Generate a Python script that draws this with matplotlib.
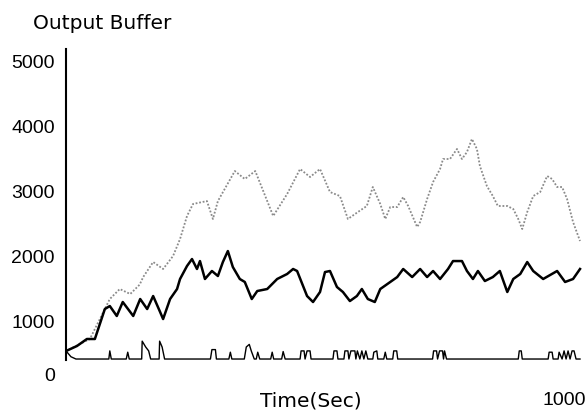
import matplotlib
matplotlib.use("Agg")
import matplotlib.pyplot as plt

# output buffer occupancy
top_t = [0, 28, 48, 68, 88, 108, 129, 148, 155, 175, 195, 215, 229, 243, 255, 283, 295, 305,
         339, 359, 380, 416, 444, 470, 490, 510, 530, 550, 566, 586, 604, 616, 631, 641,
         651, 665, 677, 687, 705, 711, 725, 737, 751, 757, 771, 785, 795, 805, 815, 825,
         831, 845, 857, 867, 886, 898, 908, 916, 926, 938, 952, 966, 976, 986, 996, 1006,
         1018, 1032]
top_v = [538, 646, 723, 1030, 1338, 1492, 1415, 1560, 1676, 1907, 1800, 2000, 2261, 2615, 2800,
         2845, 2569, 2845, 3307, 3184, 3307, 2615, 2953, 3338, 3215, 3338, 2984, 2922, 2569,
         2676, 2769, 3061, 2799, 2569, 2753, 2753, 2907, 2769, 2446, 2522, 2876, 3138, 3338,
         3492, 3492, 3646, 3492, 3599, 3800, 3646, 3384, 3076, 2922, 2769, 2769, 2722, 2569,
         2415, 2676, 2922, 2984, 3230, 3184, 3061, 3061, 2876, 2522, 2230]

mid_t = [0, 22, 42, 58, 78, 88, 102, 114, 135, 149, 163, 175, 189, 195, 209, 223, 229, 243,
         253, 263, 269, 279, 293, 305, 315, 325, 335, 349, 359, 373, 384, 404, 424, 444, 456,
         464, 484, 496, 510, 520, 530, 544, 556, 570, 584, 594, 606, 620, 631, 651, 665, 677,
         695, 711, 725, 737, 751, 767, 777, 795, 805, 817, 827, 841, 857, 871, 886, 898, 912,
         926, 938, 958, 986, 1002, 1018, 1032]
mid_v = [538, 615, 723, 723, 1184, 1230, 1077, 1292, 1077, 1338, 1184, 1384, 1138, 1030, 1338,
         1492, 1646, 1846, 1953, 1800, 1922, 1646, 1769, 1692, 1907, 2076, 1830, 1646, 1600,
         1338, 1461, 1492, 1646, 1723, 1800, 1769, 1384, 1292, 1446, 1753, 1769, 1523, 1446,
         1307, 1384, 1492, 1338, 1292, 1492, 1600, 1676, 1800, 1676, 1800, 1676, 1769, 1646,
         1800, 1922, 1922, 1769, 1646, 1769, 1615, 1676, 1769, 1446, 1646, 1723, 1907, 1769,
         1646, 1769, 1600, 1646, 1800]

low_t = [0, 10, 20, 86, 88, 91, 121, 124, 127, 152, 153, 160, 166, 170, 187, 188, 193, 198,
         290, 293, 300, 302, 327, 330, 333, 358, 362, 368, 372, 378, 382, 385, 389, 411, 414,
         417, 433, 436, 440, 470, 472, 478, 480, 484, 490, 492, 536, 538, 544, 546, 558, 560,
         566, 568, 572, 580, 582, 585, 590, 594, 598, 602, 606, 616, 618, 624, 626, 638, 641,
         644, 656, 658, 664, 666, 736, 738, 744, 746, 750, 756, 758, 760, 764, 908, 910, 914,
         916, 968, 970, 976, 978, 988, 990, 996, 1000, 1004, 1008, 1012, 1016, 1020, 1024, 1032]
low_v = [540, 450, 415, 415, 540, 415, 415, 520, 415, 415, 690, 600, 540, 415, 415, 690, 600,
         415, 415, 560, 560, 415, 415, 520, 415, 415, 600, 640, 540, 415, 415, 520, 415, 415,
         520, 415, 415, 530, 415, 415, 540, 540, 415, 540, 540, 415, 415, 540, 540, 415, 415,
         540, 540, 415, 540, 540, 415, 540, 415, 540, 415, 540, 415, 415, 520, 540, 415, 415,
         520, 415, 415, 540, 540, 415, 415, 540, 540, 415, 540, 540, 415, 540, 415, 415, 540,
         540, 415, 415, 520, 520, 415, 415, 520, 415, 540, 415, 540, 415, 540, 540, 415, 415]

ytick_pos = [185, 1000, 2000, 3000, 4000, 5000]
ytick_lab = ["0", "1000", "2000", "3000", "4000", "5000"]

fig = plt.figure(figsize=(5.88, 4.14), dpi=100)
ax = fig.add_axes([0.1122, 0.0894, 0.8844, 0.7947])

ax.plot(top_t, top_v, color="#8a8a8a", lw=1.3, linestyle=(0, (1, 1)))
ax.plot(mid_t, mid_v, color="black", lw=1.8)
ax.plot(low_t, low_v, color="black", lw=1.0)

ax.set_xlim(0, 1044)
ax.set_ylim(154, 5215)

for s in ["top", "right", "bottom"]:
    ax.spines[s].set_visible(False)
ax.spines["left"].set_linewidth(1.5)
ax.spines["left"].set_bounds(400, 5180)

ax.set_yticks(ytick_pos, ytick_lab, fontfamily="Liberation Sans", fontsize=14)
ax.set_xticks([1000], ["1000"], fontfamily="Liberation Sans", fontsize=14)
ax.tick_params(axis="y", length=0, pad=8)
ax.tick_params(axis="x", length=0, pad=11)

ax.set_xlabel("Time(Sec)", fontfamily="DejaVu Sans", fontsize=14.5)
ax.xaxis.set_label_coords(0.47, -0.045)

fig.text(33 / 588, 1 - 29 / 414, "Output Buffer", fontfamily="DejaVu Sans",
         fontsize=14.5, va="baseline", ha="left")

fig.savefig("out.png", dpi=100)
